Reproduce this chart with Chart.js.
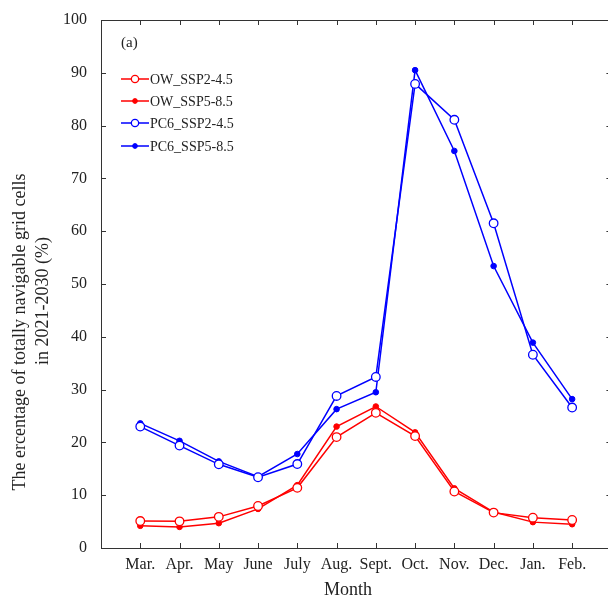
<!DOCTYPE html>
<html>
<head>
<meta charset="utf-8">
<script src="https://cdn.jsdelivr.net/npm/chart.js@4.4.1/dist/chart.umd.min.js"></script>
<style>
  html, body { margin: 0; padding: 0; background: #fff; overflow: hidden; }
  #wrap { width: 608px; height: 603px; overflow: hidden; }
</style>
</head>
<body>
<div id="wrap"><canvas id="chart" width="617" height="603"></canvas></div>
<script>
// month labels along the x axis
const months = ['Mar.', 'Apr.', 'May', 'June', 'July', 'Aug.', 'Sept.', 'Oct.', 'Nov.', 'Dec.', 'Jan.', 'Feb.'];

// values (%)
const owSsp245  = [5.1, 5.05, 5.9, 7.95, 11.4, 21.0, 25.6, 21.2, 10.7, 6.7, 5.75, 5.3];
const owSsp585  = [4.2, 4.0, 4.7, 7.4, 11.9, 23.0, 26.8, 21.9, 11.3, 6.8, 4.9, 4.5];
const pc6Ssp245 = [23.0, 19.4, 15.85, 13.4, 15.9, 28.8, 32.4, 87.9, 81.1, 61.5, 36.6, 26.6];
const pc6Ssp585 = [23.6, 20.3, 16.4, 13.5, 17.8, 26.3, 29.5, 90.5, 75.2, 53.4, 38.9, 28.2];

const seriesNames = ['OW_SSP2-4.5', 'OW_SSP5-8.5', 'PC6_SSP2-4.5', 'PC6_SSP5-8.5'];
const yTicks = [0, 10, 20, 30, 40, 50, 60, 70, 80, 90, 100];

const RED = '#ff0000';
const BLUE = '#0000ff';
const FONT = '"Liberation Serif", "Times New Roman", serif';

function toPoints(values) {
    return values.map((v, i) => ({ x: i + 1, y: v }));
}

function makeSet(label, values, color, open) {
    return {
        label: label,
        data: toPoints(values),
        borderColor: color,
        borderWidth: 1.5,
        backgroundColor: open ? '#ffffff' : color,
        pointBorderColor: color,
        pointBackgroundColor: open ? '#ffffff' : color,
        pointRadius: open ? 4.3 : 2.8,
        pointBorderWidth: open ? 1.3 : 1,
        pointStyle: 'circle',
        fill: false,
        tension: 0
    };
}

// frame with inward ticks, titles and the in-plot legend
const decorations = {
    id: 'decorations',
    afterDraw(chart) {
        const ctx = chart.ctx;
        const a = chart.chartArea;
        const xs = chart.scales.x;
        const ys = chart.scales.y;
        const right = xs.getPixelForValue(13);
        ctx.save();
        ctx.strokeStyle = '#333';
        ctx.lineWidth = 1;
        ctx.beginPath();
        ctx.rect(a.left + 0.5, a.top + 0.5, right - a.left, a.bottom - a.top);
        ctx.stroke();

        ctx.beginPath();
        months.forEach((m, i) => {
            const px = Math.round(xs.getPixelForValue(i + 1)) + 0.5;
            ctx.moveTo(px, a.bottom); ctx.lineTo(px, a.bottom - 5);
            ctx.moveTo(px, a.top); ctx.lineTo(px, a.top + 5);
        });
        yTicks.forEach(v => {
            const py = Math.round(ys.getPixelForValue(v)) + 0.5;
            ctx.moveTo(a.left, py); ctx.lineTo(a.left + 5, py);
            ctx.moveTo(right, py); ctx.lineTo(right - 5, py);
        });
        ctx.stroke();

        // axis titles
        ctx.fillStyle = '#222';
        ctx.font = '18px ' + FONT;
        ctx.textAlign = 'center';
        ctx.textBaseline = 'middle';
        ctx.fillText('Month', 348, 590);

        ctx.save();
        ctx.translate(20, 332);
        ctx.rotate(-Math.PI / 2);
        ctx.fillText('The ercentage of totally navigable grid cells', 0, 0);
        ctx.restore();
        ctx.save();
        ctx.translate(43, 301);
        ctx.rotate(-Math.PI / 2);
        ctx.fillText('in 2021-2030 (%)', 0, 0);
        ctx.restore();

        // panel label
        ctx.textAlign = 'left';
        ctx.font = '15px ' + FONT;
        ctx.fillText('(a)', 121, 43);

        // legend
        ctx.font = '14px ' + FONT;
        const rowY = [79, 101, 123, 146];
        chart.data.datasets.forEach((ds, i) => {
            const y = rowY[i];
            ctx.strokeStyle = ds.borderColor;
            ctx.lineWidth = 1.5;
            ctx.beginPath();
            ctx.moveTo(121, y);
            ctx.lineTo(149, y);
            ctx.stroke();
            ctx.beginPath();
            ctx.arc(135, y, ds.pointRadius * 0.85, 0, Math.PI * 2);
            ctx.fillStyle = ds.pointBackgroundColor;
            ctx.fill();
            ctx.lineWidth = ds.pointBorderWidth;
            ctx.stroke();
            ctx.fillStyle = '#222';
            ctx.fillText(seriesNames[i], 150, y + 1);
        });
        ctx.restore();
    }
};

new Chart(document.getElementById('chart'), {
    type: 'line',
    data: {
        datasets: [
            makeSet(seriesNames[0], owSsp245, RED, true),
            makeSet(seriesNames[1], owSsp585, RED, false),
            makeSet(seriesNames[2], pc6Ssp245, BLUE, true),
            makeSet(seriesNames[3], pc6Ssp585, BLUE, false)
        ]
    },
    options: {
        responsive: false,
        animation: false,
        events: [],
        layout: { padding: { top: 20, right: 0, left: 0, bottom: 0 } },
        plugins: {
            legend: { display: false },
            tooltip: { enabled: false },
            title: { display: false }
        },
        scales: {
            x: {
                type: 'linear',
                min: 0,
                max: 13,
                afterBuildTicks(scale) {
                    scale.ticks = months.map((m, i) => ({ value: i + 1 }));
                },
                afterFit(scale) {
                    scale.height = 55;
                    scale.paddingLeft = 0;
                    scale.paddingRight = 0;
                },
                grid: { display: false, drawTicks: false },
                border: { display: false },
                ticks: {
                    autoSkip: false,
                    maxRotation: 0,
                    padding: 7,
                    color: '#222',
                    font: { family: FONT, size: 16 },
                    callback: (v) => months[v - 1] || ''
                }
            },
            y: {
                min: 0,
                max: 100,
                afterBuildTicks(scale) {
                    scale.ticks = yTicks.map(v => ({ value: v }));
                },
                afterFit(scale) {
                    scale.width = 101;
                    scale.paddingTop = 0;
                    scale.paddingBottom = 0;
                },
                grid: { display: false, drawTicks: false },
                border: { display: false },
                ticks: {
                    padding: 14,
                    color: '#222',
                    font: { family: FONT, size: 16 }
                }
            }
        }
    },
    plugins: [decorations]
});
</script>
</body>
</html>
